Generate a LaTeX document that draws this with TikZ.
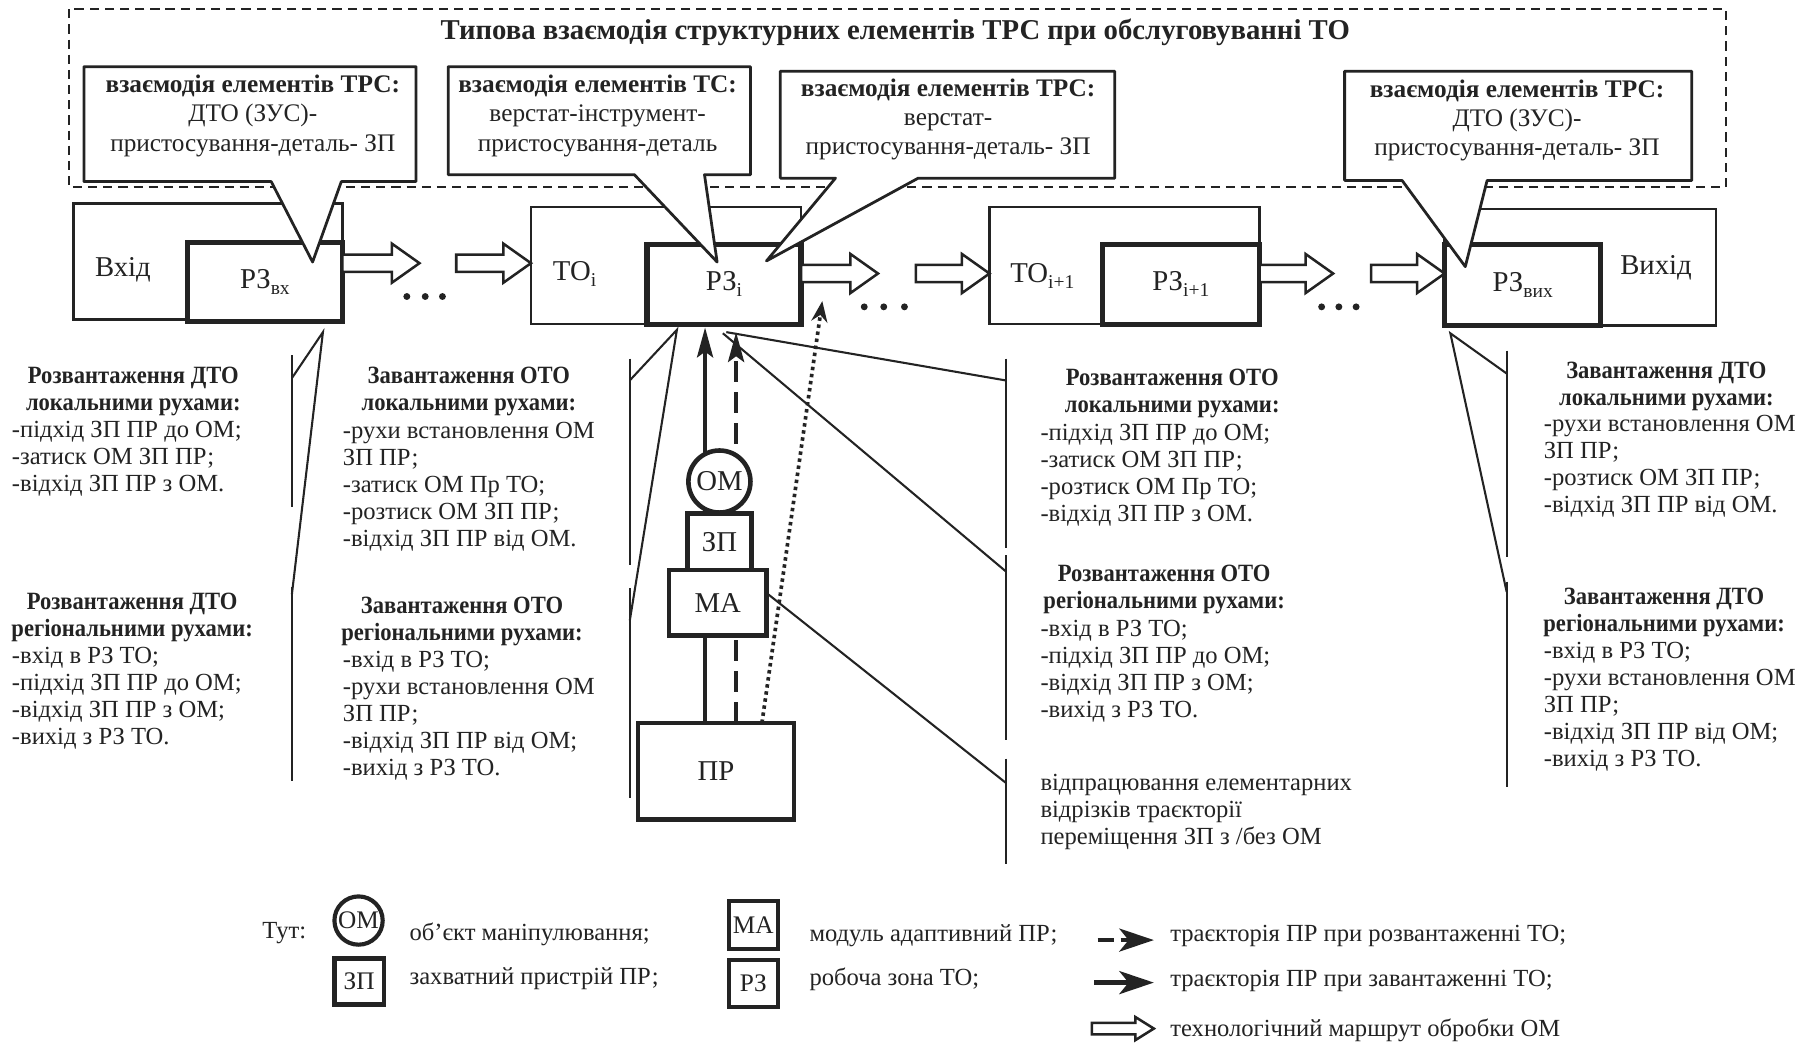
\documentclass[tikz,border=0pt]{standalone}
\usepackage{fontspec}
\setmainfont{Liberation Serif}
\newfontfamily\narrowserif{Liberation Serif}[FakeStretch=0.91]
\usetikzlibrary{arrows.meta}
\definecolor{ink}{HTML}{232323}
\newcommand\lblock[1]{\begin{tabular}[t]{@{}l@{}}#1\end{tabular}}
\newcommand\cblock[1]{\begin{tabular}[t]{@{}c@{}}#1\end{tabular}}
\newcommand\lowidx[1]{\raisebox{-0.45ex}{\fontsize{8.5}{9}\selectfont #1}}
\newcommand\rbox[7]{\pgfmathsetmacro\bxw{(#5-#3)/2}\pgfmathsetmacro\bxh{(#6-#4)/2}%
  \node[#1,minimum width=\bxw pt,minimum height=\bxh pt] (#2) at ({(#3+#5)/2},{(#4+#6)/2}) {#7};}
\newcommand\harrow[6]{\draw[hollow] (#1,#3-#4) -- (#2-#6,#3-#4) -- (#2-#6,#3-#5) -- (#2,#3) -- (#2-#6,#3+#5) -- (#2-#6,#3+#4) -- (#1,#3+#4) -- cycle;}
\newcommand\callout[8]{\filldraw[cbox] (#1,#4) -- (#1,#2) -- (#3,#2) -- (#3,#4) -- (#6,#4) -- (#7,#8) -- (#5,#4) -- cycle;}
\begin{document}
\begin{tikzpicture}[x=0.5pt,y=-0.5pt,
  every node/.style={text=ink},
  outerbox/.style={draw=ink,line width=1.1pt,inner sep=0,outer sep=0},
  rzbox/.style={draw=ink,line width=2.2pt,fill=white,inner sep=0,outer sep=0,font=\fontsize{12.5}{14}\selectfont},
  robox/.style={draw=ink,line width=2pt,fill=white,inner sep=0,outer sep=0,font=\fontsize{12.5}{14}\selectfont},
  legbox/.style={draw=ink,line width=1.8pt,fill=white,inner sep=0,outer sep=0,font=\fontsize{11}{12}\selectfont},
  hollow/.style={draw=ink,line width=1.1pt,fill=white,line join=miter},
  cbox/.style={draw=ink,line width=1.2pt,fill=white,line join=round},
  frame/.style={draw=ink,line width=0.9pt,dash pattern=on 4pt off 2.6pt},
  brk/.style={draw=ink,line width=0.9pt},
  lbl/.style={inner sep=0,font=\fontsize{12.5}{14}\selectfont},
  lst/.style={anchor=mid west,inner sep=0,font=\fontsize{10.7}{11.75}\selectfont},
  hd/.style={anchor=mid,inner sep=0,font=\narrowserif\bfseries\fontsize{10.8}{11.75}\selectfont},
  ctext/.style={anchor=mid,inner sep=0,font=\fontsize{11}{12.75}\selectfont},
  trajL/.style={draw=ink,line width=1.6pt,-{Stealth[length=13pt,width=7pt,inset=2.5pt]}},
  trajU/.style={trajL,dash pattern=on 9pt off 4.5pt},
  trajD/.style={draw=ink,line width=1.6pt,dash pattern=on 1.5pt off 1.6pt,-{Stealth[length=9pt,width=7pt]}},
  dot/.style={fill=ink}
]
\useasboundingbox (0,0) rectangle (1568,910);
\fill[white] (0,0) rectangle (1568,910);

% frame and title
\draw[frame] (60,8) rectangle (1502,163);
\node[anchor=mid,inner sep=0,font=\bfseries\fontsize{12.5}{14}\selectfont] (title) at (779,30) {Типова взаємодія структурних елементів ТРС при обслуговуванні ТО};

% main row
\rbox{outerbox}{vin}{64}{177}{298}{278}{}
\rbox{rzbox}{rzin}{163}{211}{298}{280}{РЗ\lowidx{вх}}
\node[lbl] (vintxt) at (107,235) {Вхід};

\rbox{outerbox}{toi}{462}{180}{697}{282}{}
\rbox{rzbox}{rzi}{563}{213}{697}{282}{РЗ\lowidx{і}}
\node[lbl] (toitxt) at (500,238) {ТО\lowidx{і}};

\rbox{outerbox}{toj}{861}{180}{1096}{282}{}
\rbox{rzbox}{rzj}{959}{213}{1096}{282}{РЗ\lowidx{і+1}}
\node[lbl] (tojtxt) at (907,240) {ТО\lowidx{і+1}};

\rbox{outerbox}{vout}{1257}{182}{1493}{283}{}
\rbox{rzbox}{rzout}{1257}{213}{1393}{283}{РЗ\lowidx{вих}}
\node[lbl] (vouttxt) at (1441,233) {Вихід};

\harrow{298}{365}{229}{7.5}{17}{24}
\harrow{397}{462}{229}{7.5}{17}{24}
\harrow{697}{764}{238}{7.5}{17}{24}
\harrow{797}{861}{238}{7.5}{17}{24}
\harrow{1096}{1160}{238}{7.5}{17}{24}
\harrow{1193}{1257}{238}{7.5}{17}{24}

\foreach \dx in {354,370,385} \fill[dot] (\dx,258) circle[radius=1.5pt];
\foreach \dx in {752,769,787} \fill[dot] (\dx,267) circle[radius=1.5pt];
\foreach \dx in {1150,1165,1180} \fill[dot] (\dx,267) circle[radius=1.5pt];

% callouts
\callout{73}{58}{362}{158}{236}{297}{272}{228}
\callout{390}{58}{653}{152}{552}{613}{624}{228}
\callout{679}{62}{970}{155}{727}{799}{667}{227}
\callout{1170}{62}{1472}{157}{1220}{1294}{1275}{232}

\node[ctext] (c1) at (220,76) {\cblock{\textbf{взаємодія елементів ТРС:}\\ДТО (ЗУС)-\\пристосування-деталь- ЗП}};
\node[ctext] (c2) at (520,76) {\cblock{\textbf{взаємодія елементів ТС:}\\верстат-інструмент-\\пристосування-деталь}};
\node[ctext] (c3) at (825,79) {\cblock{\textbf{взаємодія елементів ТРС:}\\верстат-\\пристосування-деталь- ЗП}};
\node[ctext] (c4) at (1320,80) {\cblock{\textbf{взаємодія елементів ТРС:}\\ДТО (ЗУС)-\\пристосування-деталь- ЗП}};

% robot trajectories (behind robot parts)
\draw[trajL] (613.5,629) -- (613.5,285);
\draw[trajU] (640.5,629) -- (640.5,289);
\draw[trajD] (663,629) -- (715.5,262);

% robot parts
\node[robox,circle,minimum size=27pt] (om) at (626,419) {ОМ};
\rbox{robox}{zp}{598}{447}{654}{496}{ЗП}
\rbox{robox}{ma}{582}{496}{667}{553}{МА}
\rbox{robox}{pr}{555}{629}{691}{713}{ПР}

% brackets and pointer lines
\draw[brk] (254,309) -- (254,441);
\draw[brk] (254,511) -- (254,680);
\draw[brk] (254,329) -- (281,289) -- (254,517);

\draw[brk] (548,312) -- (548,492);
\draw[brk] (548,512) -- (548,694);
\draw[brk] (548,331) -- (589,287) -- (548,540);

\draw[brk] (875,312) -- (875,477);
\draw[brk] (875,483) -- (875,644);
\draw[brk] (875,660) -- (875,752);
\draw[brk] (632,289) -- (875,331);
\draw[brk] (629,290) -- (875,497);
\draw[brk] (667,516) -- (875,681);

\draw[brk] (1311,305) -- (1311,485);
\draw[brk] (1311,506) -- (1311,685);
\draw[brk] (1311,325) -- (1262,290) -- (1311,515);

% column 1
\node[hd] (h1a) at (116,329) {\cblock{Розвантаження ДТО\\локальними рухами:}};
\node[lst] (l1a) at (10,376) {\lblock{-підхід ЗП ПР до ОМ;\\-затиск ОМ ЗП ПР;\\-відхід ЗП ПР з ОМ.}};
\node[hd] (h1b) at (115,526) {\cblock{Розвантаження ДТО\\регіональними рухами:}};
\node[lst] (l1b) at (10,573) {\lblock{-вхід в РЗ ТО;\\-підхід ЗП ПР до ОМ;\\-відхід ЗП ПР з ОМ;\\-вихід з РЗ ТО.}};

% column 2
\node[hd] (h2a) at (408,329) {\cblock{Завантаження ОТО\\локальними рухами:}};
\node[lst] (l2a) at (298,377) {\lblock{-рухи встановлення ОМ\\ЗП ПР;\\-затиск ОМ Пр ТО;\\-розтиск ОМ ЗП ПР;\\-відхід ЗП ПР від ОМ.}};
\node[hd] (h2b) at (402,529) {\cblock{Завантаження ОТО\\регіональними рухами:}};
\node[lst] (l2b) at (298,576) {\lblock{-вхід в РЗ ТО;\\-рухи встановлення ОМ\\ЗП ПР;\\-відхід ЗП ПР від ОМ;\\-вихід з РЗ ТО.}};

% column 4
\node[hd] (h4a) at (1020,331) {\cblock{Розвантаження ОТО\\локальними рухами:}};
\node[lst] (l4a) at (905,379) {\lblock{-підхід ЗП ПР до ОМ;\\-затиск ОМ ЗП ПР;\\-розтиск ОМ Пр ТО;\\-відхід ЗП ПР з ОМ.}};
\node[hd] (h4b) at (1013,501) {\cblock{Розвантаження ОТО\\регіональними рухами:}};
\node[lst] (l4b) at (905,549) {\lblock{-вхід в РЗ ТО;\\-підхід ЗП ПР до ОМ;\\-відхід ЗП ПР з ОМ;\\-вихід з РЗ ТО.}};
\node[lst] (l4c) at (905,683) {\lblock{відпрацювання елементарних\\відрізків траєкторії\\переміщення ЗП з /без ОМ}};

% column 5
\node[hd] (h5a) at (1450,325) {\cblock{Завантаження ДТО\\локальними рухами:}};
\node[lst] (l5a) at (1343,371) {\lblock{-рухи встановлення ОМ\\ЗП ПР;\\-розтиск ОМ ЗП ПР;\\-відхід ЗП ПР від ОМ.}};
\node[hd] (h5b) at (1448,521) {\cblock{Завантаження ДТО\\регіональними рухами:}};
\node[lst] (l5b) at (1343,568) {\lblock{-вхід в РЗ ТО;\\-рухи встановлення ОМ\\ЗП ПР;\\-відхід ЗП ПР від ОМ;\\-вихід з РЗ ТО.}};

% legend
\node[lst] (tut) at (228,812) {Тут:};
\node[legbox,circle,minimum size=21pt] (lom) at (312,801) {ОМ};
\node[lst] (lomt) at (356,814) {об’єкт маніпулювання;};
\rbox{legbox}{lzp}{291}{834}{334}{874}{ЗП}
\node[lst] (lzpt) at (356,852) {захватний пристрій ПР;};
\rbox{legbox}{lma}{634}{784}{677}{826}{МА}
\node[lst] (lmat) at (704,815) {модуль адаптивний ПР;};
\rbox{legbox}{lrz}{634}{835}{677}{876}{РЗ}
\node[lst] (lrzt) at (704,853) {робоча зона ТО;};

\draw[draw=ink,line width=2pt,dash pattern=on 7pt off 3pt,-{Stealth[length=15pt,width=10pt,inset=4pt]}] (955,818) -- (1004,818);
\draw[draw=ink,line width=2pt,-{Stealth[length=15pt,width=10pt,inset=4pt]}] (952,855) -- (1004,855);
\harrow{950}{1004}{895}{5}{10}{16}
\node[lst] (lg1) at (1018,815) {траєкторія ПР при розвантаженні ТО;};
\node[lst] (lg2) at (1018,854) {траєкторія ПР при завантаженні ТО;};
\node[lst] (lg3) at (1018,897) {технологічний маршрут обробки ОМ};
\end{tikzpicture}
\end{document}
